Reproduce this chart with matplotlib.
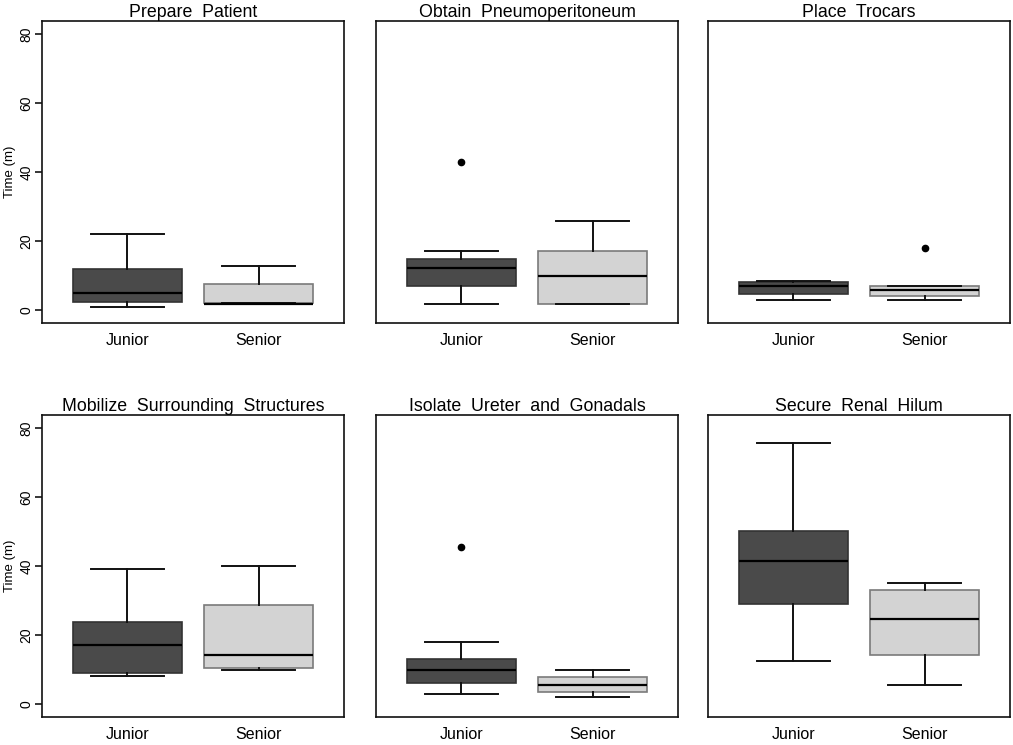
import matplotlib
matplotlib.use("Agg")
import matplotlib.pyplot as plt

plt.rcParams['font.family'] = ['Liberation Sans', 'DejaVu Sans']

titles = ["Prepare  Patient", "Obtain  Pneumoperitoneum", "Place  Trocars",
          "Mobilize  Surrounding  Structures", "Isolate  Ureter  and  Gonadals",
          "Secure  Renal  Hilum"]
groups = ["Junior", "Senior"]

# Junior stats per panel
junior_whislo = [1.0, 1.9, 3.0, 8.2, 3.0, 12.5]
junior_q1     = [2.4, 7.0, 4.8, 9.0, 6.0, 29.0]
junior_med    = [5.0, 12.1, 7.0, 17.0, 10.0, 41.5]
junior_q3     = [12.0, 14.9, 8.1, 23.9, 13.1, 50.0]
junior_whishi = [22.0, 17.2, 8.4, 39.0, 18.1, 75.5]
junior_fliers = [[], [43.0], [], [], [45.5], []]

# Senior stats per panel
senior_whislo = [2.0, 1.9, 3.0, 10.0, 2.0, 5.7]
senior_q1     = [2.0, 1.9, 4.0, 10.6, 3.6, 14.2]
senior_med    = [1.9, 9.8, 5.9, 14.3, 5.7, 24.6]
senior_q3     = [7.5, 17.2, 6.9, 28.6, 8.0, 33.1]
senior_whishi = [12.8, 25.9, 6.9, 39.9, 9.9, 35.0]
senior_fliers = [[], [], [18.0], [], [], []]

yticks = [0, 20, 40, 60, 80]

W, H = 1013, 745
fig = plt.figure(figsize=(W / 100, H / 100), dpi=100)

col_left = [42, 376, 708]
row_top = [21, 415]
aw, ah = 302, 302

colors = ["#4a4a4a", "#d3d3d3"]
edges = ["#333333", "#7a7a7a"]

for i in range(6):
    r, c = divmod(i, 3)
    left = col_left[c] / W
    bottom = (H - (row_top[r] + ah)) / H
    ax = fig.add_axes([left, bottom, aw / W, ah / H])
    stats = [
        dict(med=junior_med[i], q1=junior_q1[i], q3=junior_q3[i],
             whislo=junior_whislo[i], whishi=junior_whishi[i],
             fliers=junior_fliers[i], label=groups[0]),
        dict(med=senior_med[i], q1=senior_q1[i], q3=senior_q3[i],
             whislo=senior_whislo[i], whishi=senior_whishi[i],
             fliers=senior_fliers[i], label=groups[1]),
    ]
    bp = ax.bxp(stats, positions=[1, 2], widths=0.83, capwidths=0.56,
                patch_artist=True,
                medianprops=dict(color="black", linewidth=1.6),
                whiskerprops=dict(color="#111111", linewidth=1.4),
                capprops=dict(color="#111111", linewidth=1.4),
                flierprops=dict(marker="o", markerfacecolor="black",
                                markeredgecolor="black", markersize=4.5))
    for patch, fc, ec in zip(bp["boxes"], colors, edges):
        patch.set_facecolor(fc)
        patch.set_edgecolor(ec)
        patch.set_linewidth(1.2)
    ax.set_xlim(0.35, 2.65)
    ax.set_ylim(-3.7, 83.7)
    ax.set_xticks([1, 2])
    ax.set_xticklabels(groups, fontsize=11.5)
    ax.tick_params(axis="x", length=0, pad=7)
    for s in ax.spines.values():
        s.set_linewidth(1.2)
        s.set_color("#111111")
    ax.set_title(titles[i], fontsize=12.8, pad=3)
    if c == 0:
        ax.set_yticks(yticks)
        ax.set_yticklabels([str(v) for v in yticks], rotation=90,
                           va="center", fontsize=10)
        ax.tick_params(axis="y", length=5, width=1.1, pad=1)
        ax.set_ylabel("Time (m)", fontsize=9.5, labelpad=3)
    else:
        ax.set_yticks([])

fig.savefig("out.png", dpi=100)
